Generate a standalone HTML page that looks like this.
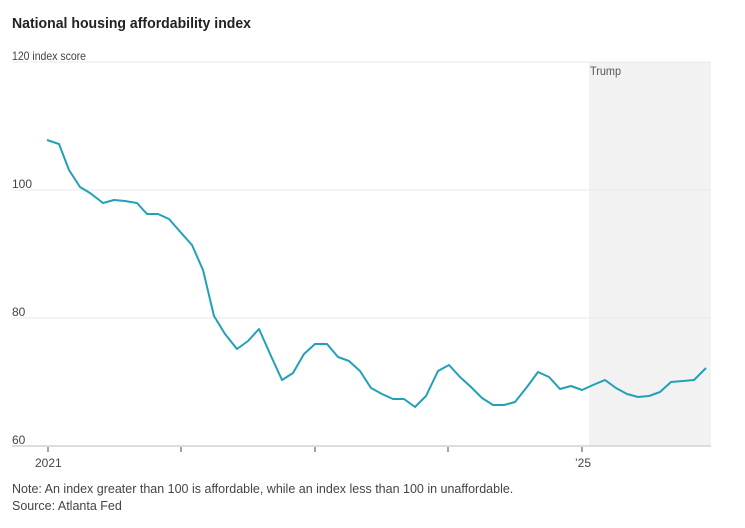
<!DOCTYPE html>
<html><head><style>
body{margin:0;background:#fff;font-family:"Liberation Sans",sans-serif;}
</style></head><body>
<svg width="745" height="523" xmlns="http://www.w3.org/2000/svg" font-family="Liberation Sans, sans-serif">
<rect width="745" height="523" fill="#fff"/>
<text x="12" y="28" font-size="15" font-weight="bold" fill="#222" textLength="239" lengthAdjust="spacingAndGlyphs">National housing affordability index</text>
<rect x="589" y="62" width="122" height="384" fill="#f2f2f2"/>
<text x="590" y="75" font-size="12" fill="#555" textLength="31" lengthAdjust="spacingAndGlyphs">Trump</text>
<g stroke="#e8e8e8" stroke-width="1">
<line x1="12" y1="62" x2="711" y2="62"/>
<line x1="12" y1="190" x2="711" y2="190"/>
<line x1="12" y1="318" x2="711" y2="318"/>
</g>
<line x1="12" y1="446" x2="711" y2="446" stroke="#ddd" stroke-width="2"/>
<g font-size="12" fill="#444">
<text x="12" y="60" textLength="74" lengthAdjust="spacingAndGlyphs">120 index score</text>
<text x="12" y="188">100</text>
<text x="12" y="316">80</text>
<text x="12" y="444">60</text>
<text x="35" y="467">2021</text>
<text x="575" y="467">’25</text>
</g>
<g stroke="#444" stroke-width="1">
<line x1="48" y1="447" x2="48" y2="452"/>
<line x1="181" y1="447" x2="181" y2="452"/>
<line x1="315" y1="447" x2="315" y2="452"/>
<line x1="448" y1="447" x2="448" y2="452"/>
<line x1="582" y1="447" x2="582" y2="452"/>
</g>
<polyline fill="none" stroke="#21a0b8" stroke-width="2" stroke-linejoin="round" points="47,140 59,144 69,170 80,187 90,193 103,203 114,200 125,201 137,203 147,214 158,214 169,219 183,235 192,245 203,270 214,316 225,334 237,349 248,341 259,329 271,356 282,380 293,373 304,354 315,344 327,344 338,357 349,361 360,371 371,388 382,394 393,399 404,399 415,407 426,396 438,371 449,365 460,377 471,387 482,398 493,405 504,405 515,402 527,387 538,372 549,377 560,389 571,386 582,390 593,385 605,380 616,388 627,394 638,397 649,396 660,392 671,382 683,381 694,380 706,368"/>
<text x="12" y="493" font-size="12.5" fill="#444">Note: An index greater than 100 is affordable, while an index less than 100 in unaffordable.</text>
<text x="12" y="510" font-size="12.5" fill="#444">Source: Atlanta Fed</text>
</svg>
</body></html>
